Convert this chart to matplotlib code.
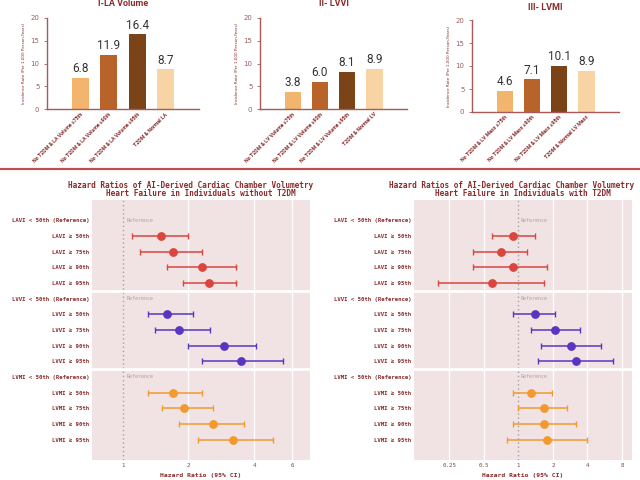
import numpy as np
import matplotlib
matplotlib.use('Agg')
import matplotlib.pyplot as plt
from matplotlib.lines import Line2D

# bar chart data
bar_titles = ['I-LA Volume', 'II- LVVI', 'III- LVMI']
bar_labels = [
    ['No T2DM & LA Volume ≥75th', 'No T2DM & LA Volume ≥90th', 'No T2DM & LA Volume ≥95th', 'T2DM & Normal LA'],
    ['No T2DM & LV Volume ≥75th', 'No T2DM & LV Volume ≥90th', 'No T2DM & LV Volume ≥95th', 'T2DM & Normal LV'],
    ['No T2DM & LV Mass ≥75th', 'No T2DM & LV Mass ≥90th', 'No T2DM & LV Mass ≥95th', 'T2DM & Normal LV Mass'],
]
bar_values = [
    [6.8, 11.9, 16.4, 8.7],
    [3.8, 6.0, 8.1, 8.9],
    [4.6, 7.1, 10.1, 8.9],
]
bar_colors = ['#f3b46e', '#b7632a', '#7a4418', '#f8d3a4']

# forest plot data
rows = ['LAVI < 50th (Reference)', 'LAVI ≥ 50th', 'LAVI ≥ 75th', 'LAVI ≥ 90th', 'LAVI ≥ 95th',
        'LVVI < 50th (Reference)', 'LVVI ≥ 50th', 'LVVI ≥ 75th', 'LVVI ≥ 90th', 'LVVI ≥ 95th',
        'LVMI < 50th (Reference)', 'LVMI ≥ 50th', 'LVMI ≥ 75th', 'LVMI ≥ 90th', 'LVMI ≥ 95th']
group_colors = ['#d9463e', '#5a35c0', '#f29a2e']

hr_no = [1.50, 1.70, 2.30, 2.49, 1.60, 1.80, 2.90, 3.50, 1.70, 1.90, 2.60, 3.20]
lo_no = [1.10, 1.20, 1.60, 1.89, 1.30, 1.40, 2.00, 2.30, 1.30, 1.51, 1.81, 2.21]
hi_no = [2.00, 2.30, 3.31, 3.31, 2.10, 2.50, 4.10, 5.42, 2.30, 2.60, 3.60, 4.91]

hr_t2 = [0.89, 0.70, 0.89, 0.59, 1.40, 2.09, 2.88, 3.17, 1.28, 1.69, 1.69, 1.79]
lo_t2 = [0.59, 0.40, 0.40, 0.20, 0.89, 1.28, 1.58, 1.49, 0.89, 1.00, 0.89, 0.80]
hi_t2 = [1.40, 1.20, 1.79, 1.69, 2.09, 3.45, 5.27, 6.75, 1.98, 2.66, 3.17, 3.95]

dark_red = '#8b2c2c'

fig = plt.figure(figsize=(6.4, 4.8), dpi=100)
W, H = 640, 480


def ax_px(x0, y0, x1, y1):
    return fig.add_axes([x0 / W, 1 - y1 / H, (x1 - x0) / W, (y1 - y0) / H])


# ---- top bar charts ----
boxes = [(47, 18, 199, 109), (260, 18, 407, 109), (472, 20, 619, 112)]
title_y = [4, 4, 7]
for k in range(3):
    ax = ax_px(*boxes[k])
    x = np.arange(4)
    ax.bar(x, bar_values[k], width=0.6, color=bar_colors)
    for xi, v in zip(x, bar_values[k]):
        ax.text(xi, v + 0.6, f'{v:.1f}', ha='center', va='bottom', fontsize=8.5,
                color='#333333', family='Roboto')
    ax.set_xlim(-1.2, 4.2)
    ax.set_ylim(0, 20)
    ax.set_yticks([0, 5, 10, 15, 20])
    ax.set_xticks(x)
    ax.set_xticklabels(bar_labels[k], rotation=45, ha='right', rotation_mode='anchor',
                       fontsize=3.8, color=dark_red, fontweight='bold', family='Roboto')
    ax.tick_params(axis='y', labelsize=5, colors='#9a6060', length=2, width=0.6)
    ax.tick_params(axis='x', length=0, pad=2)
    ax.set_ylabel('Incidence Rate (Per 1,000 Person-Years)', fontsize=3, color=dark_red, labelpad=3)
    for s in ['top', 'right']:
        ax.spines[s].set_visible(False)
    for s in ['left', 'bottom']:
        ax.spines[s].set_color('#a85a5a')
        ax.spines[s].set_linewidth(1.0)
    fig.text(((boxes[k][0] + boxes[k][2]) / 2) / W, 1 - title_y[k] / H, bar_titles[k],
             ha='center', va='center', fontsize=6.5, fontweight='bold', color=dark_red, family='Roboto')

# separator line
fig.add_artist(Line2D([0, 1], [1 - 169 / H, 1 - 169 / H], color='#bf4e4e', lw=1.6,
                      transform=fig.transFigure))


# ---- forest plots ----
def forest(ax, hr, lo, hi, xlim, ticks, ticklabels):
    ax.set_facecolor('#f1e3e4')
    ax.set_xscale('log')
    ax.set_xlim(*xlim)
    ax.set_ylim(15.3, -1.3)
    for t in ticks:
        if t != 1:
            ax.axvline(t, color='white', lw=0.9, zorder=0)
    ax.axvline(1, color='#a0a0a0', lw=1.0, ls=(0, (1, 2)), zorder=1)
    for yy in [4.5, 9.5]:
        ax.axhline(yy, color='white', lw=2, zorder=1)
    i = 0
    for g in range(3):
        base = g * 5
        ax.text(1.04, base, 'Reference', fontsize=3.6, color='#b0a0a0', va='center',
                family='DejaVu Sans Mono')
        for j in range(1, 5):
            y = base + j
            ax.errorbar(hr[i], y, xerr=[[hr[i] - lo[i]], [hi[i] - hr[i]]], fmt='o',
                        color=group_colors[g], ms=5.3, elinewidth=1.1, capsize=2, capthick=1.0,
                        zorder=3)
            i += 1
    ax.set_yticks(range(15))
    ax.set_yticklabels(rows, fontsize=4.1, fontweight='bold', color=dark_red,
                       family='DejaVu Sans Mono')
    ax.set_xticks(ticks)
    ax.set_xticklabels(ticklabels, fontsize=4.2, color='#7a4a4a', family='DejaVu Sans Mono')
    ax.xaxis.set_minor_locator(matplotlib.ticker.NullLocator())
    ax.tick_params(axis='both', length=0, pad=2)
    ax.set_xlabel('Hazard Ratio (95% CI)', fontsize=4.6, fontweight='bold', color=dark_red,
                  family='DejaVu Sans Mono', labelpad=4)
    for s in ax.spines.values():
        s.set_visible(False)


axl = ax_px(92, 200, 310, 460)
forest(axl, hr_no, lo_no, hi_no, (0.72, 7.24), [1, 2, 4, 6], ['1', '2', '4', '6'])
axr = ax_px(414, 200, 632, 460)
forest(axr, hr_t2, lo_t2, hi_t2, (0.123, 9.8), [0.25, 0.5, 1, 2, 4, 8],
       ['0.25', '0.5', '1', '2', '4', '8'])

title_kw = dict(va='center', fontsize=5.6, fontweight='bold', color=dark_red,
                family='DejaVu Sans Mono')
fig.text(68 / W, 1 - 185 / H, 'Hazard Ratios of AI-Derived Cardiac Chamber Volumetry',
         ha='left', **title_kw)
fig.text(201 / W, 1 - 193.5 / H, 'Heart Failure in Individuals without T2DM', ha='center', **title_kw)
fig.text(389 / W, 1 - 185 / H, 'Hazard Ratios of AI-Derived Cardiac Chamber Volumetry',
         ha='left', **title_kw)
fig.text(523 / W, 1 - 193.5 / H, 'Heart Failure in Individuals with T2DM', ha='center', **title_kw)

fig.savefig('out.png', dpi=100)
